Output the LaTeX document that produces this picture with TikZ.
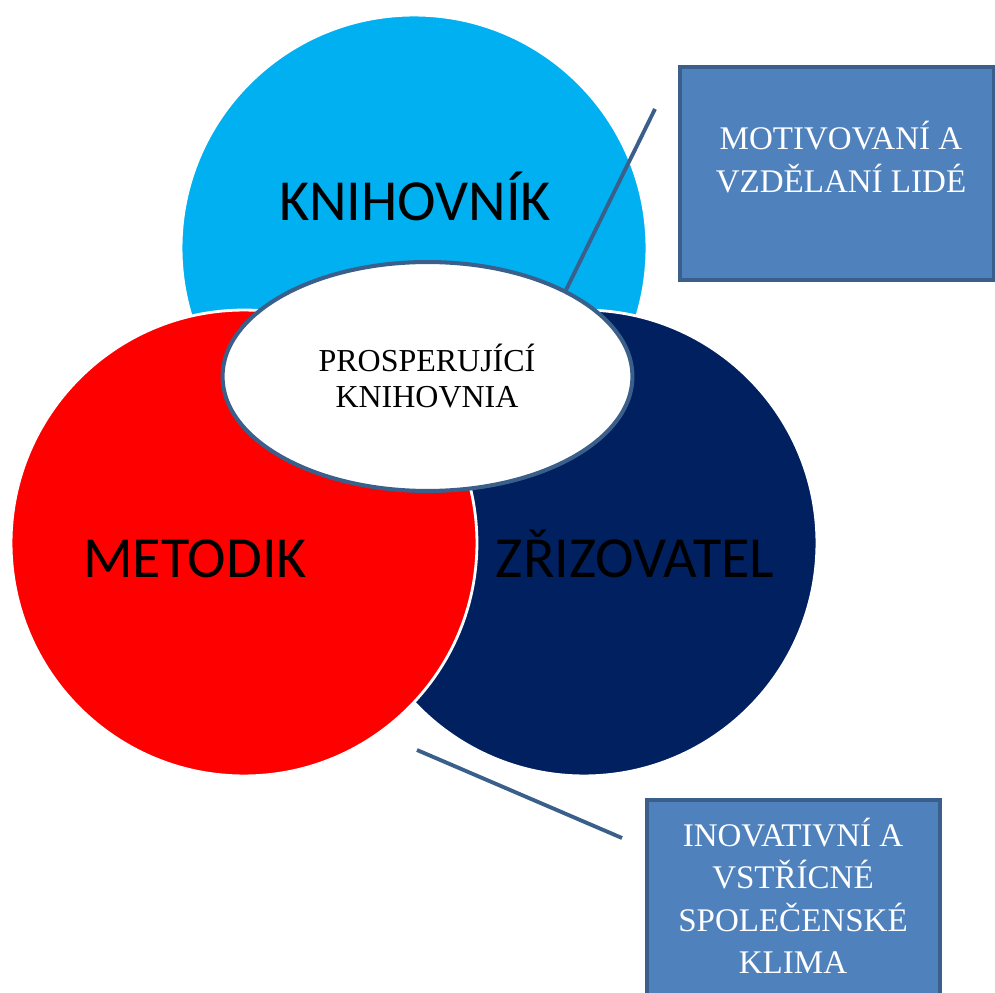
\documentclass[tikz,border=0pt]{standalone}
\usepackage{fontspec}
\setmainfont{Liberation Serif}
\newfontfamily\calib{Carlito}
\usetikzlibrary{shapes.geometric}
\definecolor{cyanc}{HTML}{00B0F0}
\definecolor{redc}{HTML}{FF0000}
\definecolor{navyc}{HTML}{002060}
\definecolor{boxfill}{HTML}{4F81BD}
\definecolor{boxline}{HTML}{3A5F8B}
\begin{document}
\begin{tikzpicture}[x=0.02cm,y=-0.02cm,
  circ/.style={circle, minimum size=9.32cm, inner sep=0pt, draw=white, line width=1.6pt},
  bigtext/.style={font=\calib\fontsize{33.1}{38}\selectfont, text=black, inner sep=0pt},
  boxstyle/.style={draw=boxline, fill=boxfill, line width=2.2pt},
  boxtext/.style={font=\fontsize{18.8}{24}\selectfont, text=white, align=center, inner sep=0pt},
  conn/.style={draw=boxline, line width=2.2pt}]
\useasboundingbox (0,0) rectangle (995,993);
% circles
\node[circ, fill=cyanc] (kn) at (414,248) {};
\node[circ, fill=navyc] (zr) at (584,543) {};
\node[circ, fill=redc] (me) at (244,543) {};
% circle labels
\node[bigtext, anchor=base] (knt) at (415,221) {KNIHOVNÍK};
\node[bigtext, anchor=base] (met) at (195,578) {METODIK};
\node[bigtext, anchor=base] (zrt) at (635,578) {ZŘIZOVATEL};
% central ellipse
\node[ellipse, minimum width=8.2cm, minimum height=4.58cm, draw=boxline, line width=2.3pt, fill=white] (ell) at (427.5,376.5) {};
\node[font=\fontsize{18.2}{21}\selectfont, align=center, inner sep=0pt] (elt) at (427,376) {PROSPERUJÍCÍ\\KNIHOVNIA};
% boxes
\path[boxstyle] (680,67) rectangle (994,280);
\node[inner sep=0pt, minimum width=6.28cm, minimum height=4.26cm] (b1) at (837,173.5) {};
\node[boxtext] (b1t) at (841,157) {MOTIVOVANÍ A\\VZDĚLANÍ LIDÉ};
\path[boxstyle] (647,800) rectangle (940,1010);
\node[inner sep=0pt, minimum width=5.86cm, minimum height=4.2cm] (b2) at (793.5,905) {};
\node[boxtext, font=\fontsize{18.8}{24.2}\selectfont] (b2t) at (793,896) {INOVATIVNÍ A\\VSTŘÍCNÉ\\SPOLEČENSKÉ\\KLIMA};
% connectors
\coordinate (c1) at (655,109);
\draw[conn] (c1) -- (ell.32);
\coordinate (c2) at (417,750);
\coordinate (c3) at (622,838);
\draw[conn] (c2) -- (c3);
\end{tikzpicture}
\end{document}
